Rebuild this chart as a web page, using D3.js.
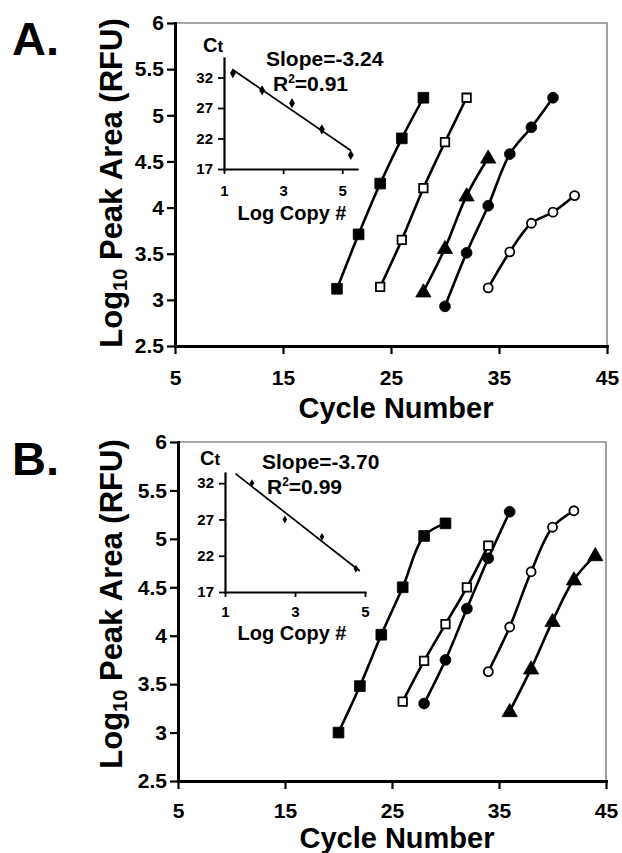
<!DOCTYPE html>
<html><head><meta charset="utf-8">
<script src="https://cdn.jsdelivr.net/npm/d3@7"></script>
<style>
body{margin:0;background:#fff}
svg{display:block}
text{font-family:"Liberation Sans",Arial,Helvetica,sans-serif;font-weight:bold;fill:#000}
</style>
</head><body>
<svg id="c" width="622" height="853"></svg>
<script>
// ---------- data ----------
const cycleTicks = [5, 15, 25, 35, 45];
const peakTicks = [2.5, 3, 3.5, 4, 4.5, 5, 5.5, 6];
const ctTicks = [17, 22, 27, 32];
const logCopyTicks = [1, 3, 5];

// Panel A main series (cycle, log10 peak area)
const aSqFilledX = [20, 22, 24, 26, 28];
const aSqFilledY = [3.12, 3.71, 4.26, 4.75, 5.19];
const aSqOpenX = [24, 26, 28, 30, 32];
const aSqOpenY = [3.14, 3.65, 4.21, 4.71, 5.19];
const aTriX = [28, 30, 32, 34];
const aTriY = [3.09, 3.56, 4.13, 4.54];
const aCircFilledX = [30, 32, 34, 36, 38, 40];
const aCircFilledY = [2.93, 3.51, 4.02, 4.58, 4.87, 5.19];
const aCircOpenX = [34, 36, 38, 40, 42];
const aCircOpenY = [3.13, 3.52, 3.83, 3.95, 4.13];

// Panel A inset (log copy #, Ct)
const aLogCopy = [1.3, 2.29, 3.3, 4.31, 5.29];
const aCt = [32.7, 29.9, 27.8, 23.5, 19.3];
const aFitRange = [1.3, 5.29];
const aSlopeText = "Slope=-3.24";
const aR2Text = "0.91";

// Panel B main series
const bSqFilledX = [20, 22, 24, 26, 28, 30];
const bSqFilledY = [3.00, 3.48, 4.01, 4.50, 5.03, 5.16];
const bSqOpenX = [26, 28, 30, 32, 34];
const bSqOpenY = [3.32, 3.74, 4.12, 4.50, 4.93];
const bCircFilledX = [28, 30, 32, 34, 36];
const bCircFilledY = [3.30, 3.75, 4.28, 4.80, 5.28];
const bCircOpenX = [34, 36, 38, 40, 42];
const bCircOpenY = [3.63, 4.09, 4.66, 5.12, 5.29];
const bTriX = [36, 38, 40, 42, 44];
const bTriY = [3.22, 3.66, 4.15, 4.58, 4.83];

// Panel B inset
const bLogCopy = [1.77, 2.71, 3.77, 4.74];
const bCt = [32.0, 27.0, 24.6, 20.2];
const bFitRange = [1.3, 4.85];
const bSlopeText = "Slope=-3.70";
const bR2Text = "0.99";

// ---------- drawing ----------
const svg = d3.select("#c");
const FONT = '"Liberation Sans",Arial,Helvetica,sans-serif';

function zip(xs, ys) { return xs.map((v, i) => [v, ys[i]]); }

function styleAxis(g, size, domainW, tickW) {
  g.attr("font-family", FONT).attr("font-size", size).attr("font-weight", "bold");
  g.select(".domain").attr("stroke", "#000").attr("stroke-width", domainW).attr("stroke-linecap", "square");
  g.selectAll(".tick line").attr("stroke", "#000").attr("stroke-width", tickW);
  g.selectAll(".tick text").attr("fill", "#000");
}

function drawPanel(p) {
  const x = d3.scaleLinear().domain([5, 45]).range([p.x0, p.x1]);
  const y = d3.scaleLinear().domain([2.5, 6]).range([p.y0, p.y1]);
  const g = svg.append("g");

  // frame (top & right)
  g.append("path")
    .attr("d", `M${x(5)},${y(6)}H${x(45)}V${y(2.5)}`)
    .attr("fill", "none").attr("stroke", "#8a8a8a").attr("stroke-width", 1.6);

  const gx = g.append("g").attr("transform", `translate(0,${y(2.5)})`)
    .call(d3.axisBottom(x).tickValues(cycleTicks).tickSize(8).tickSizeOuter(0)
      .tickPadding(p.xPad).tickFormat(d => String(d)));
  styleAxis(gx, 21, 3, 2.2);

  const gy = g.append("g").attr("transform", `translate(${x(5)},0)`)
    .call(d3.axisLeft(y).tickValues(peakTicks).tickSize(8).tickSizeOuter(0)
      .tickPadding(3).tickFormat(d => String(d)));
  styleAxis(gy, 21, 3, 2.2);

  // axis titles
  g.append("text").attr("x", p.xTitleX).attr("y", p.xTitleY)
    .attr("text-anchor", "middle").attr("font-size", 29).text("Cycle Number");
  const yt = g.append("text")
    .attr("transform", `translate(${p.yTitleX},${p.yTitleY}) rotate(-90)`)
    .attr("text-anchor", "middle").attr("font-size", 31);
  yt.append("tspan").text("Log");
  yt.append("tspan").attr("font-size", 20).attr("dy", 5).text("10");
  yt.append("tspan").attr("dy", -5).text(" Peak Area (RFU)");

  // panel letter
  g.append("text").attr("x", 12).attr("y", p.letterY).attr("font-size", 47).text(p.letter);

  // series
  const line = d3.line().x(d => x(d[0])).y(d => y(d[1])).curve(d3.curveCatmullRom.alpha(0.5));
  p.series.forEach(s => {
    const pts = zip(s.x, s.y);
    g.append("path").attr("d", line(pts)).attr("fill", "none")
      .attr("stroke", "#000").attr("stroke-width", 2.6);
  });
  p.series.forEach(s => {
    const pts = zip(s.x, s.y);
    const type = s.shape === "square" ? d3.symbolSquare : s.shape === "circle" ? d3.symbolCircle : d3.symbolTriangle;
    const size = s.filled ? (s.shape === "square" ? 115 : s.shape === "circle" ? 92 : 100) : (s.shape === "square" ? 72 : 64);
    g.selectAll(null).data(pts).enter().append("path")
      .attr("transform", d => `translate(${x(d[0])},${y(d[1]) + (s.shape === "triangle" ? 1 : 0)})`)
      .attr("d", d3.symbol().type(type).size(size))
      .attr("fill", s.filled ? "#000" : "#fff")
      .attr("stroke", "#000").attr("stroke-width", s.filled ? 0.8 : 1.8);
  });

  // inset
  const ins = p.inset;
  const ix = d3.scaleLinear().domain(ins.xDomain).range(ins.xRange);
  const iy = d3.scaleLinear().domain(ins.yDomain).range(ins.yRange);
  const gi = g.append("g");
  const gix = gi.append("g").attr("transform", `translate(0,${iy(ins.yDomain[0])})`)
    .call(d3.axisBottom(ix).tickValues(logCopyTicks).tickSize(5).tickSizeOuter(0)
      .tickPadding(ins.xPad).tickFormat(d => String(d)));
  styleAxis(gix, 15, 2.2, 1.8);
  const giy = gi.append("g").attr("transform", `translate(${ix(ins.xDomain[0])},0)`)
    .call(d3.axisLeft(iy).tickValues(ctTicks).tickSize(6).tickSizeOuter(0)
      .tickPadding(5).tickFormat(d => String(d)));
  styleAxis(giy, 15, 2.2, 1.8);

  // least-squares fit from the inset data
  const mx = d3.mean(ins.lx), my = d3.mean(ins.ct);
  const sxy = d3.sum(ins.lx.map((v, i) => (v - mx) * (ins.ct[i] - my)));
  const sxx = d3.sum(ins.lx.map(v => (v - mx) * (v - mx)));
  const m = sxy / sxx, b = my - m * mx;
  gi.append("line")
    .attr("x1", ix(ins.fit[0])).attr("y1", iy(m * ins.fit[0] + b))
    .attr("x2", ix(ins.fit[1])).attr("y2", iy(m * ins.fit[1] + b))
    .attr("stroke", "#000").attr("stroke-width", 1.7);
  gi.selectAll(null).data(zip(ins.lx, ins.ct)).enter().append("path")
    .attr("transform", d => `translate(${ix(d[0])},${iy(d[1])})`)
    .attr("d", d3.symbol().type(d3.symbolDiamond).size(ins.markSize))
    .attr("fill", "#000");

  gi.append("text").attr("x", ins.ctX).attr("y", ins.ctY).attr("font-size", 20)
    .text("C").append("tspan").attr("font-size", 17).text("t");
  gi.append("text").attr("x", ins.lcX).attr("y", ins.lcY).attr("text-anchor", "middle")
    .attr("font-size", 20).text("Log Copy #");
  gi.append("text").attr("x", ins.slX).attr("y", ins.slY).attr("font-size", 21).text(ins.slope);
  const r2 = gi.append("text").attr("x", ins.r2X).attr("y", ins.r2Y).attr("font-size", 21);
  r2.append("tspan").text("R");
  r2.append("tspan").attr("font-size", 12).attr("dy", -8).text("2");
  r2.append("tspan").attr("dy", 8).text("=" + ins.r2);
}

drawPanel({
  letter: "A.", letterY: 55,
  x0: 175, x1: 607, y0: 346, y1: 23, xPad: 16,
  xTitleX: 396, xTitleY: 418, yTitleX: 122, yTitleY: 183,
  series: [
    {x: aSqFilledX, y: aSqFilledY, shape: "square", filled: true},
    {x: aSqOpenX, y: aSqOpenY, shape: "square", filled: false},
    {x: aTriX, y: aTriY, shape: "triangle", filled: true},
    {x: aCircFilledX, y: aCircFilledY, shape: "circle", filled: true},
    {x: aCircOpenX, y: aCircOpenY, shape: "circle", filled: false}
  ],
  inset: {
    lx: aLogCopy, ct: aCt, fit: aFitRange, slope: aSlopeText, r2: aR2Text,
    xDomain: [1, 5.5], xRange: [224, 357], yDomain: [17, 35.2], yRange: [169, 58],
    xPad: 11, markSize: 30,
    ctX: 203, ctY: 52, lcX: 292, lcY: 220, slX: 266, slY: 66, r2X: 273, r2Y: 91
  }
});

drawPanel({
  letter: "B.", letterY: 475,
  x0: 178, x1: 606, y0: 781, y1: 442, xPad: 14,
  xTitleX: 397, xTitleY: 848, yTitleX: 122, yTitleY: 604,
  series: [
    {x: bSqFilledX, y: bSqFilledY, shape: "square", filled: true},
    {x: bSqOpenX, y: bSqOpenY, shape: "square", filled: false},
    {x: bCircFilledX, y: bCircFilledY, shape: "circle", filled: true},
    {x: bCircOpenX, y: bCircOpenY, shape: "circle", filled: false},
    {x: bTriX, y: bTriY, shape: "triangle", filled: true}
  ],
  inset: {
    lx: bLogCopy, ct: bCt, fit: bFitRange, slope: bSlopeText, r2: bR2Text,
    xDomain: [1, 5], xRange: [225, 365], yDomain: [17, 33.4], yRange: [592, 473],
    xPad: 9, markSize: 18,
    ctX: 200, ctY: 465, lcX: 292, lcY: 640, slX: 262, slY: 469, r2X: 267, r2Y: 494
  }
});
</script>
</body></html>
